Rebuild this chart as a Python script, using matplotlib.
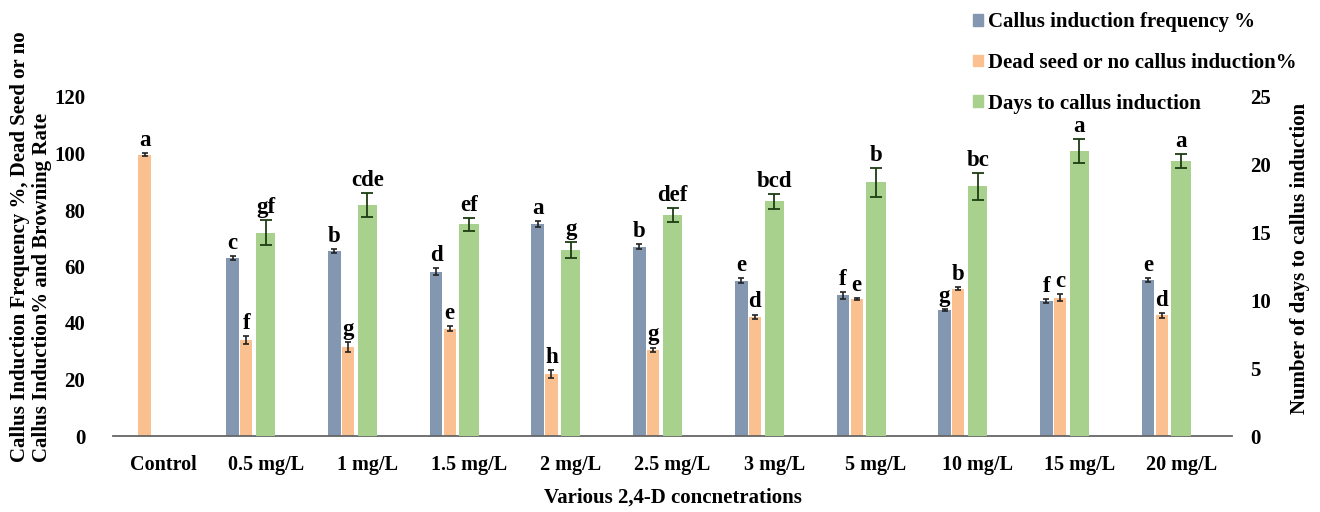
import numpy as np
import matplotlib
matplotlib.use("Agg")
import matplotlib.pyplot as plt
from matplotlib.patches import Patch

categories = ["Control", "0.5 mg/L", "1 mg/L", "1.5 mg/L", "2 mg/L", "2.5 mg/L",
              "3 mg/L", "5 mg/L", "10 mg/L", "15 mg/L", "20 mg/L"]
callus_freq = [np.nan, 63.0, 65.5, 58.2, 75.0, 67.0, 55.0, 49.8, 44.6, 47.8, 55.2]
callus_err = [np.nan, 0.7, 0.8, 1.2, 1.0, 0.8, 0.8, 1.3, 0.4, 0.7, 0.7]
dead_seed = [99.6, 34.0, 31.5, 38.0, 22.0, 30.5, 42.2, 48.4, 52.2, 49.0, 42.7]
dead_err = [0.5, 1.3, 1.7, 0.8, 1.5, 0.8, 0.8, 0.4, 0.6, 1.2, 0.8]
days = [np.nan, 15.0, 17.05, 15.6, 13.7, 16.3, 17.3, 18.7, 18.4, 21.0, 20.3]
days_err = [np.nan, 0.93, 0.9, 0.5, 0.58, 0.5, 0.53, 1.05, 1.0, 0.89, 0.5]
callus_letters = ["", "c", "b", "d", "a", "b", "e", "f", "g", "f", "e"]
dead_letters = ["a", "f", "g", "e", "h", "g", "d", "e", "b", "c", "d"]
days_letters = ["", "gf", "cde", "ef", "g", "def", "bcd", "b", "bc", "a", "a"]
left_ticks = [0, 20, 40, 60, 80, 100, 120]
right_ticks = [0, 5, 10, 15, 20, 25]

c_blue = "#8497B0"
c_orange = "#FAC08F"
c_green = "#A9D18E"

FONT = "Liberation Serif"
plt.rcParams["font.family"] = [FONT, "DejaVu Serif"]
plt.rcParams["font.weight"] = "bold"

fig = plt.figure(figsize=(13.2, 5.12), dpi=100)
ax = fig.add_axes([113/1320, 76/512, 1119/1320, 339/512])
ax2 = ax.twinx()

x = np.arange(len(categories))
ax.bar(x - 0.325, callus_freq, width=0.125, color=c_blue, zorder=2)
ax.errorbar(x - 0.325, callus_freq, yerr=callus_err, fmt="none", ecolor="#222222",
            elinewidth=1.2, capsize=2.5, capthick=1.2, zorder=3)
ax.bar(x - 0.19, dead_seed, width=0.12, color=c_orange, zorder=2)
ax.errorbar(x - 0.19, dead_seed, yerr=dead_err, fmt="none", ecolor="#222222",
            elinewidth=1.2, capsize=2.5, capthick=1.2, zorder=3)
ax2.bar(x, days, width=0.19, color=c_green, zorder=2)
ax2.errorbar(x, days, yerr=days_err, fmt="none", ecolor="#1e3d14",
             elinewidth=1.3, capsize=4, capthick=1.3, zorder=3)

def put_letters(a, xs, vals, errs, letters):
    for xi, v, e, t in zip(xs, vals, errs, letters):
        if not t or np.isnan(v):
            continue
        a.annotate(t, (xi, v + e), xytext=(0, 1.5), textcoords="offset points",
                   ha="center", va="bottom", fontsize=16.5, fontweight="bold",
                   family=FONT)

put_letters(ax, x - 0.325, callus_freq, callus_err, callus_letters)
put_letters(ax, x - 0.19, dead_seed, dead_err, dead_letters)
put_letters(ax2, x, days, days_err, days_letters)

ax.set_xlim(-0.5, len(categories) - 0.5)
ax.set_ylim(0, 120)
ax2.set_ylim(0, 25)
ax.set_yticks(left_ticks)
ax2.set_yticks(right_ticks)
ax.set_xticks(x)
ax.set_xticklabels(categories)
for a in (ax, ax2):
    for s in ("top", "left", "right", "bottom"):
        a.spines[s].set_visible(False)
ax.spines["bottom"].set_visible(True)
ax.spines["bottom"].set_color("#666666")
ax.spines["bottom"].set_linewidth(1.3)
ax.tick_params(axis="both", length=0)
ax.tick_params(axis="y", pad=20, labelsize=15)
ax.tick_params(axis="x", pad=14, labelsize=14.5)
ax2.tick_params(axis="y", length=0, labelsize=15, pad=13)
for lab in ax.get_xticklabels() + ax.get_yticklabels() + ax2.get_yticklabels():
    lab.set_fontweight("bold")

ax.set_xlabel("Various 2,4-D concnetrations", fontsize=15, fontweight="bold", labelpad=9)

fig.text(0.0235, 50/512,
         "Callus Induction Frequency %, Dead Seed or no\nCallus Induction% and Browning Rate",
         rotation=90, ha="center", va="bottom", multialignment="left",
         fontsize=15, fontweight="bold", linespacing=1.15)
fig.text(1300/1320, 1 - 258/512, "Number of days to callus induction",
         rotation=90, ha="center", va="center", fontsize=15, fontweight="bold")

handles = [Patch(color=c_blue), Patch(color=c_orange), Patch(color=c_green)]
labels = ["Callus induction frequency %", "Dead seed or no callus induction%",
          "Days to callus induction"]
fig.legend(handles, labels, loc="upper left", bbox_to_anchor=(973/1320, 1 - 12/512),
           frameon=False, handlelength=0.5, handleheight=0.5,
           handletextpad=0.2, labelspacing=1.0, borderpad=0, borderaxespad=0,
           prop={"family": FONT, "weight": "bold", "size": 15})

fig.savefig("out.png", dpi=100)
